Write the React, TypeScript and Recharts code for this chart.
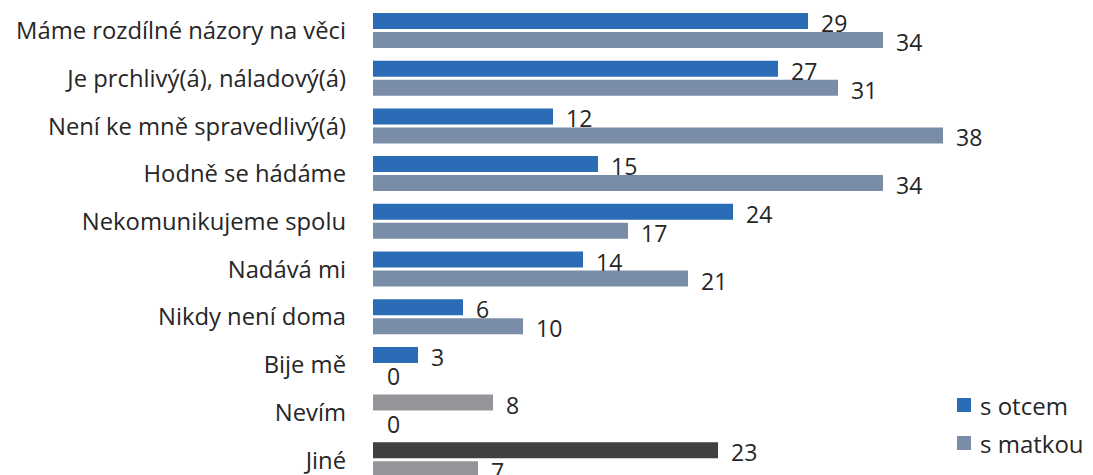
import { BarChart, Bar, XAxis, YAxis, Cell, LabelList } from 'recharts';

const categories = [
  'Máme rozdílné názory na věci',
  'Je prchlivý(á), náladový(á)',
  'Není ke mně spravedlivý(á)',
  'Hodně se hádáme',
  'Nekomunikujeme spolu',
  'Nadává mi',
  'Nikdy není doma',
  'Bije mě',
  'Nevím',
  'Jiné',
];
const otcem = [29, 27, 12, 15, 24, 14, 6, 3, 8, 23];
const matkou = [34, 31, 38, 34, 17, 21, 10, 0, 0, 7];

const BLUE = '#2a6cb5';
const SLATE = '#7a8da8';
const GREY = '#939598';
const DARK = '#404040';

// last two rows use other colours in the original
const otcemColors = categories.map((_, i) => (i === 8 ? GREY : i === 9 ? DARK : BLUE));
const matkouColors = categories.map((_, i) => (matkou[i] === 0 ? 'none' : i >= 8 ? GREY : SLATE));

const data = categories.map((name, i) => ({ name, otcem: otcem[i], matkou: matkou[i] }));

const FONT = '"Open Sans", sans-serif';
const TEXT = '#262626';

const legendItems = [
  { label: 's otcem', color: BLUE },
  { label: 's matkou', color: SLATE },
];

const valueLabel = (props: any) => {
  const { x, y, width, height, value } = props;
  return (
    <text
      x={Number(x) + Number(width) + 13}
      y={Number(y) + Number(height) / 2 + 2}
      dominantBaseline="central"
      fontFamily={FONT}
      fontSize={23}
      fill={TEXT}
    >
      {value}
    </text>
  );
};

export default function App() {
  return (
    <div style={{ position: 'absolute', left: 0, top: 0, width: 1093, height: 484, background: '#fff' }}>
      <BarChart
        width={1093}
        height={484}
        data={data}
        layout="vertical"
        margin={{ top: 7, right: 120, bottom: 0, left: 0 }}
        barSize={16}
        barGap={3}
      >
        <XAxis type="number" domain={[0, 40]} hide />
        <YAxis
          type="category"
          dataKey="name"
          width={373}
          axisLine={false}
          tickLine={false}
          tickSize={0}
          tickMargin={27}
          interval={0}
          tick={{ fontFamily: FONT, fontSize: 23.8, fill: TEXT }}
        />
        <Bar dataKey="otcem" isAnimationActive={false}>
          {otcemColors.map((c, i) => (
            <Cell key={i} fill={c} />
          ))}
          <LabelList dataKey="otcem" content={valueLabel} />
        </Bar>
        {/* minPointSize keeps zero bars (invisible) so their "0" label is drawn */}
        <Bar dataKey="matkou" isAnimationActive={false} minPointSize={1}>
          {matkouColors.map((c, i) => (
            <Cell key={i} fill={c} />
          ))}
          <LabelList dataKey="matkou" content={valueLabel} />
        </Bar>
      </BarChart>
      <div style={{ position: 'absolute', left: 957, top: 386, fontFamily: FONT, fontSize: 24, color: TEXT }}>
        {legendItems.map(it => (
          <div key={it.label} style={{ display: 'flex', alignItems: 'center', height: 38 }}>
            <span style={{ width: 14, height: 14, background: it.color, marginRight: 9, display: 'inline-block' }} />
            {it.label}
          </div>
        ))}
      </div>
    </div>
  );
}
